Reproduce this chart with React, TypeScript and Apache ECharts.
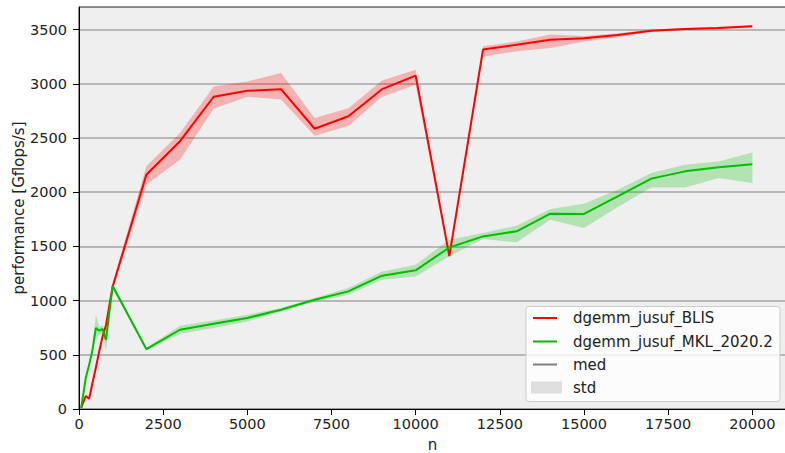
import React, { useEffect, useRef } from "react";
import * as echarts from "echarts";

// problem sizes n
const N = [64, 200, 300, 400, 500, 600, 700, 800, 1000, 2000, 3000, 4000, 5000, 6000, 7000, 8000, 9000, 10000, 11000, 12000, 13000, 14000, 15000, 16000, 17000, 18000, 19000, 20000];

// dgemm_jusuf_BLIS
const blisMed = [10, 120, 95, 240, 380, 530, 670, 770, 1130, 2160, 2470, 2880, 2935, 2950, 2585, 2700, 2950, 3075, 1410, 3315, 3360, 3405, 3420, 3450, 3490, 3505, 3515, 3530];
const blisLo = [5, 110, 85, 225, 365, 510, 650, 750, 1100, 2070, 2300, 2770, 2880, 2855, 2520, 2610, 2880, 2990, 1390, 3250, 3300, 3330, 3390, 3430, 3480, 3495, 3505, 3520];
const blisHi = [15, 130, 105, 255, 395, 550, 690, 790, 1160, 2240, 2545, 2975, 3020, 3100, 2685, 2775, 3030, 3130, 1430, 3345, 3390, 3455, 3440, 3465, 3500, 3515, 3525, 3540];

// dgemm_jusuf_MKL_2020.2
const mklMed = [10, 285, 405, 545, 747, 722, 738, 639, 1135, 553, 731, 787, 839, 916, 1008, 1085, 1230, 1279, 1490, 1592, 1639, 1802, 1799, 1961, 2125, 2192, 2229, 2257];
const mklLo = [5, 270, 390, 520, 650, 680, 700, 530, 1110, 540, 694, 747, 808, 900, 990, 1054, 1193, 1223, 1408, 1568, 1537, 1746, 1670, 1863, 2044, 2044, 2131, 2085];
const mklHi = [15, 300, 420, 570, 870, 760, 770, 700, 1150, 565, 768, 817, 870, 932, 1025, 1116, 1269, 1331, 1562, 1624, 1691, 1845, 1894, 2023, 2177, 2254, 2284, 2367];

const xTicks = [0, 2500, 5000, 7500, 10000, 12500, 15000, 17500, 20000];
const yTicks = [0, 500, 1000, 1500, 2000, 2500, 3000, 3500];

const legendNames = ["dgemm_jusuf_BLIS", "dgemm_jusuf_MKL_2020.2", "med", "std"];

const RED = "#ff0000";
const GREEN = "#00bd00";
const FONT = "DejaVu Sans";
const TXT = "#222222";

function band(name: string, lo: number[], hi: number[], fill: string) {
  return {
    type: "custom",
    name,
    silent: true,
    clip: true,
    data: N.map((n, i) => [n, lo[i], hi[i]]),
    encode: { x: 0, y: [1, 2] },
    renderItem: (params: any, api: any) => {
      if (params.dataIndex !== 0) return null;
      const upper = N.map((n, i) => api.coord([n, hi[i]]));
      const lower = N.map((n, i) => api.coord([n, lo[i]])).reverse();
      return {
        type: "polygon",
        shape: { points: upper.concat(lower) },
        style: { fill, stroke: "none" },
      };
    },
  };
}

function line(name: string, vals: number[], color: string) {
  return {
    type: "line",
    name,
    data: N.map((n, i) => [n, vals[i]]),
    symbol: "none",
    lineStyle: { color, width: 2 },
    itemStyle: { color },
    silent: true,
  };
}

export default function App() {
  const ref = useRef<HTMLDivElement>(null);
  useEffect(() => {
    if (!ref.current) return;
    const chart = echarts.init(ref.current, null, { renderer: "svg" });
    const lx = 526, ly = 306.5, rowY = [318, 341.5, 364.5, 387.5];
    chart.setOption({
      animation: false,
      backgroundColor: "#ffffff",
      textStyle: { fontFamily: FONT },
      grid: {
        left: 79,
        top: 7,
        right: -1,
        bottom: 44,
        outerBoundsMode: "none",
        containLabel: false,
        show: true,
        backgroundColor: "#efefef",
        borderColor: "#222",
        borderWidth: 1,
      },
      xAxis: {
        type: "value",
        min: 0,
        max: 21000,
        interval: 2500,
        name: "n",
        nameLocation: "middle",
        nameGap: 30,
        nameMoveOverlap: false,
        nameTextStyle: { fontFamily: FONT, fontSize: 15, lineHeight: 12, color: TXT },
        axisLine: { show: true, lineStyle: { color: "#000", width: 1 } },
        axisTick: { show: true, length: 6, lineStyle: { color: "#000" }, customValues: xTicks },
        axisLabel: {
          customValues: xTicks,
          margin: 7,
          fontFamily: FONT,
          fontSize: 14.5,
          color: TXT,
          formatter: (v: number) => (v % 2500 === 0 ? String(v) : ""),
        },
        splitLine: { show: false },
      },
      yAxis: {
        type: "value",
        min: 0,
        max: 3708,
        interval: 500,
        name: "performance [Gflops/s]",
        nameLocation: "middle",
        nameGap: 53,
        nameMoveOverlap: false,
        nameTextStyle: { fontFamily: FONT, fontSize: 15, color: TXT },
        axisLine: { show: true, lineStyle: { color: "#000", width: 1 } },
        axisTick: { show: true, length: 6, lineStyle: { color: "#000" }, customValues: yTicks },
        axisLabel: {
          customValues: yTicks,
          margin: 12,
          fontFamily: FONT,
          fontSize: 14.5,
          color: TXT,
          formatter: (v: number) => (v % 500 === 0 ? String(v) : ""),
        },
        splitLine: { show: true, lineStyle: { color: "#a5a5a5", width: 1.6 } },
      },
      series: [
        band("BLIS std", blisLo, blisHi, "rgba(255,0,0,0.25)"),
        line(legendNames[0], blisMed, RED),
        band("MKL std", mklLo, mklHi, "rgba(0,189,0,0.25)"),
        line(legendNames[1], mklMed, GREEN),
      ],
      graphic: [
        {
          type: "rect",
          shape: { x: lx, y: ly, width: 254, height: 95, r: 3 },
          style: { fill: "rgba(255,255,255,0.8)", stroke: "#cccccc", lineWidth: 1 },
          z: 100,
        },
        { type: "line", shape: { x1: 533, y1: rowY[0], x2: 557, y2: rowY[0] }, style: { stroke: RED, lineWidth: 2 }, z: 101 },
        { type: "line", shape: { x1: 533, y1: rowY[1], x2: 557, y2: rowY[1] }, style: { stroke: GREEN, lineWidth: 2 }, z: 101 },
        { type: "line", shape: { x1: 533, y1: rowY[2], x2: 557, y2: rowY[2] }, style: { stroke: "#808080", lineWidth: 2 }, z: 101 },
        { type: "rect", shape: { x: 531, y: rowY[3] - 6, width: 31, height: 12 }, style: { fill: "#dedede", stroke: "none" }, z: 101 },
        ...legendNames.map((t, i) => ({
          type: "text",
          x: 573,
          y: rowY[i],
          z: 101,
          style: { text: t, fontFamily: FONT, fontSize: 15, fill: TXT, verticalAlign: "middle", align: "left" },
        })),
      ],
    });
    return () => chart.dispose();
  }, []);
  return <div ref={ref} style={{ position: "fixed", left: 0, top: 0, width: 785, height: 453 }} />;
}
